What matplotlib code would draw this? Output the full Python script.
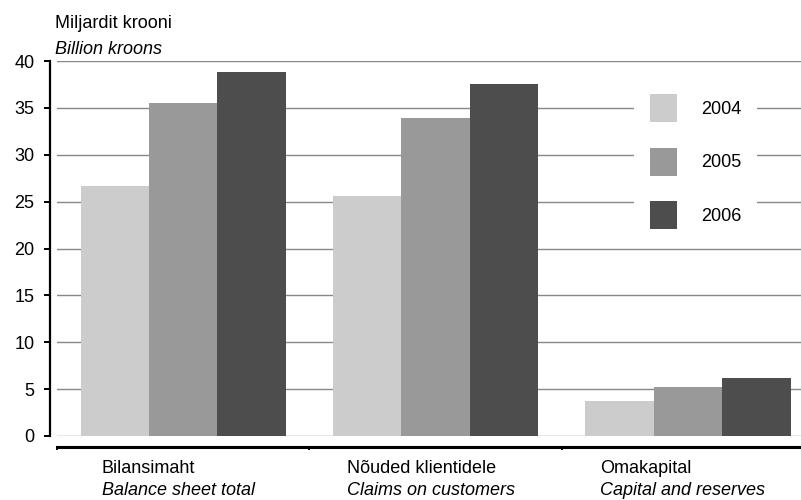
import numpy as np
import matplotlib
matplotlib.use('Agg')
import matplotlib.pyplot as plt
from matplotlib.patches import Patch
from matplotlib.offsetbox import TextArea, VPacker, AnnotationBbox

plt.rcParams['font.family'] = ['Liberation Sans', 'DejaVu Sans']

# Data (billion kroons)
categories_et = ['Bilansimaht', 'Nõuded klientidele', 'Omakapital']
categories_en = ['Balance sheet total', 'Claims on customers', 'Capital and reserves']
years = ['2004', '2005', '2006']
values_2004 = [26.7, 25.6, 3.7]
values_2005 = [35.5, 33.9, 5.2]
values_2006 = [38.8, 37.5, 6.2]
y_ticks = [0, 5, 10, 15, 20, 25, 30, 35, 40]

colors = ['#cccccc', '#999999', '#4d4d4d']
series = [values_2004, values_2005, values_2006]
fs = 13

fig = plt.figure(figsize=(8.01, 5.0), dpi=100)
ax = fig.add_axes([57 / 801, 64 / 500, 744 / 801, 375 / 500])

x = np.arange(len(categories_et))
w = 0.271
for k, (vals, col) in enumerate(zip(series, colors)):
    ax.bar(x + (k - 1) * w, vals, width=w, color=col, edgecolor='none', zorder=2)

ax.set_xlim(-0.499, 2.448)
ax.set_ylim(0, 40)
ax.set_yticks(y_ticks)
ax.set_yticklabels([str(t) for t in y_ticks])
ax.yaxis.grid(True, color='#888888', linewidth=1.0, zorder=0)
ax.set_axisbelow(True)

for s in ['top', 'right']:
    ax.spines[s].set_visible(False)
ax.spines['left'].set_position(('outward', 5))
ax.spines['left'].set_linewidth(1.6)
ax.spines['bottom'].set_position(('outward', 8))
ax.spines['bottom'].set_linewidth(2.2)

ax.tick_params(axis='y', direction='out', length=4.3, width=1.4, pad=7, labelsize=fs)
ax.set_xticks([-0.5, 0.5, 1.5])
ax.set_xticklabels([])
ax.tick_params(axis='x', direction='out', length=2.5, width=1.4)

# category labels: two lines, left aligned, block centred on the group
for i, (et, en) in enumerate(zip(categories_et, categories_en)):
    box = VPacker(children=[TextArea(et, textprops=dict(fontsize=fs)),
                            TextArea(en, textprops=dict(fontsize=fs, style='italic'))],
                  align='left', pad=0, sep=4)
    ab = AnnotationBbox(box, (i - 0.02, -0.063), xycoords=('data', 'axes fraction'),
                        box_alignment=(0.5, 1.0), frameon=False, annotation_clip=False)
    ax.add_artist(ab)

fig.text(55 / 801, 1 - 24 / 500, 'Miljardit krooni', fontsize=fs, va='center', ha='left')
fig.text(55 / 801, 1 - 49 / 500, 'Billion kroons', fontsize=fs, va='center', ha='left',
         style='italic')

handles = [Patch(facecolor=c, edgecolor='none') for c in colors]
leg = ax.legend(handles, years, loc='upper left', bbox_to_anchor=(0.7755, 0.955),
                fontsize=fs, frameon=True, fancybox=False, framealpha=1.0,
                edgecolor='white', handlelength=1.5, handleheight=2.0,
                handletextpad=1.3, labelspacing=1.42, borderpad=0.9, borderaxespad=0)
leg.get_frame().set_facecolor('white')
leg.get_frame().set_linewidth(0)

fig.savefig('out.png', dpi=100)
